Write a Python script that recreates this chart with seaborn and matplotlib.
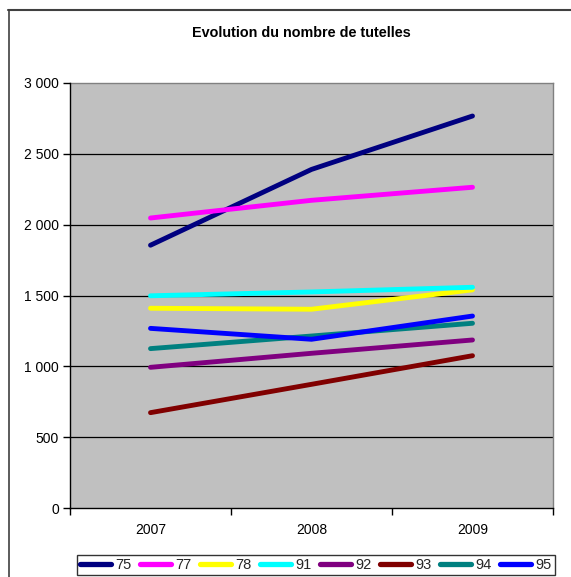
import matplotlib
matplotlib.use("Agg")
import matplotlib.pyplot as plt
import seaborn as sns
import pandas as pd
from matplotlib.lines import Line2D

# Data
years = ["2007", "2008", "2009"]
departements = ["75", "77", "78", "91", "92", "93", "94", "95"]
v75 = [1855, 2390, 2767]
v77 = [2047, 2172, 2264]
v78 = [1410, 1403, 1540]
v91 = [1498, 1525, 1558]
v92 = [993, 1092, 1186]
v93 = [673, 873, 1075]
v94 = [1125, 1214, 1304]
v95 = [1268, 1191, 1355]
series = [v75, v77, v78, v91, v92, v93, v94, v95]
colors = ["#000080", "#FF00FF", "#FFFF00", "#00FFFF", "#800080", "#800000", "#008080", "#0000FF"]
ytick_values = [0, 500, 1000, 1500, 2000, 2500, 3000]
ytick_labels = ["0", "500", "1 000", "1 500", "2 000", "2 500", "3 000"]
title = "Evolution du nombre de tutelles"

rows = []
for dep, vals in zip(departements, series):
    for i, v in enumerate(vals):
        rows.append({"pos": i, "annee": years[i], "dep": dep, "val": v})
df = pd.DataFrame(rows)

sns.set_theme(style="white")
plt.rcParams["font.family"] = ["Liberation Sans", "DejaVu Sans"]

W, H = 571, 577
fig = plt.figure(figsize=(W / 100, H / 100), dpi=100)
fig.patch.set_facecolor("white")

ax = fig.add_axes([70 / W, 1 - 508 / H, (553 - 70) / W, (508 - 83) / H])
ax.set_facecolor("#C0C0C0")

sns.lineplot(data=df, x="pos", y="val", hue="dep", hue_order=departements,
             palette=colors, linewidth=3.5, ax=ax, legend=False,
             solid_capstyle="round", solid_joinstyle="round", zorder=3)

ax.set_xlim(-0.5, 2.5)
ax.set_ylim(0, 3000)
ax.set_yticks(ytick_values)
ax.set_yticklabels(ytick_labels)
ax.set_xticks([-0.5, 0.5, 1.5, 2.5])
ax.set_xticklabels([])
ax.set_xticks([0, 1, 2], minor=True)
ax.set_xticklabels(years, minor=True)
ax.tick_params(axis="x", which="minor", length=0, pad=11, labelsize=10, colors="black")
ax.tick_params(axis="x", which="major", length=5, width=1, color="black", direction="out", bottom=True)
ax.tick_params(axis="y", length=5, width=1, color="black", direction="out", left=True,
               labelsize=10, labelcolor="black", pad=3)
ax.set_xlabel("")
ax.set_ylabel("")

ax.grid(False)
for y in ytick_values[1:-1]:
    ax.axhline(y, color="black", linewidth=0.9, zorder=1)

for side in ["left", "bottom"]:
    ax.spines[side].set_color("black")
    ax.spines[side].set_linewidth(1.0)
for side in ["top", "right"]:
    ax.spines[side].set_color("#808080")
    ax.spines[side].set_linewidth(1.0)
ax.spines["top"].set_zorder(0.5)

fig.text(301 / W, 1 - 33 / H, title, ha="center", va="center",
         fontsize=10.4, fontweight="bold", color="black")

# Chart-area frame
fig.add_artist(Line2D([8 / W, 1.0], [1 - 9.5 / H, 1 - 9.5 / H], transform=fig.transFigure,
                      color="#404040", linewidth=1.5))
fig.add_artist(Line2D([8.5 / W, 8.5 / W], [0, 1 - 9.5 / H], transform=fig.transFigure,
                      color="#404040", linewidth=1.2))

handles = [Line2D([0], [0], color=c, linewidth=3.8, solid_capstyle="round") for c in colors]
leg = fig.legend(handles, departements, loc="center", ncol=8,
                 bbox_to_anchor=(316 / W, 1 - 565 / H), frameon=True,
                 fontsize=10.5, handlelength=2.15, handletextpad=0.3, columnspacing=0.55,
                 borderpad=0.2, borderaxespad=0, fancybox=False)
leg.get_frame().set_edgecolor("black")
leg.get_frame().set_linewidth(1.0)

fig.savefig("out.png", dpi=100, facecolor="white")
